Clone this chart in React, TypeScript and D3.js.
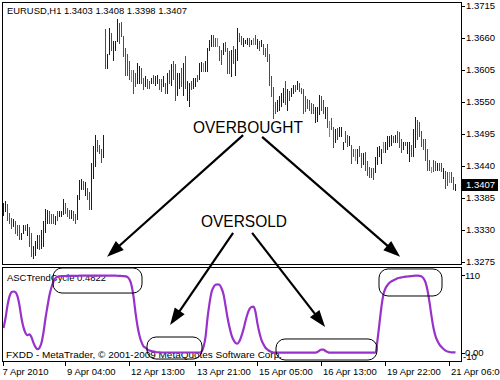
import React from 'react';
import * as d3 from 'd3';

// ---- Data (EURUSD H1 bars) ----
const highs = [
  1.3376,1.3379,1.3373,1.3358,1.3350,1.3348,1.3344,1.3338,1.3337,1.3324,
  1.3337,1.3337,1.3340,1.3335,1.3324,1.3302,1.3310,1.3321,1.3321,1.3330,
  1.3344,1.3365,1.3364,1.3361,1.3356,1.3356,1.3353,1.3361,1.3361,1.3361,
  1.3383,1.3375,1.3367,1.3364,1.3364,1.3361,1.3356,1.3389,1.3415,1.3417,
  1.3413,1.3411,1.3402,1.3394,1.3445,1.3473,1.3492,1.3483,1.3476,1.3469,
  1.3493,
  1.3674,1.3631,1.3677,1.3668,1.3654,1.3654,1.3691,1.3685,1.3686,1.3662,
  1.3642,1.3631,1.3619,1.3605,1.3605,1.3599,1.3616,1.3611,1.3608,1.3591,
  1.3593,1.3588,1.3585,1.3591,1.3596,1.3593,1.3596,1.3588,1.3588,1.3593,
  1.3582,1.3599,1.3605,1.3614,1.3619,1.3614,1.3599,1.3599,1.3608,1.3616,
  1.3628,1.3585,1.3582,1.3585,1.3591,1.3591,1.3596,1.3616,1.3618,1.3616,
  1.3619,1.3642,1.3656,1.3665,1.3665,1.3659,1.3659,1.3645,1.3639,1.3651,
  1.3652,1.3642,1.3636,1.3639,1.3645,1.3641,1.3677,1.3668,1.3662,1.3659,
  1.3656,1.3659,1.3659,1.3655,1.3659,1.3665,1.3658,1.3654,1.3655,1.3648,
  1.3642,1.3648,1.3631,1.3593,1.3575,1.3550,1.3553,1.3559,1.3565,1.3574,
  1.3585,1.3571,1.3568,1.3574,1.3579,1.3579,1.3585,1.3581,1.3574,1.3571,
  1.3559,1.3555,1.3553,1.3548,1.3545,1.3541,1.3540,1.3562,1.3559,1.3553,
  1.3541,1.3541,1.3516,1.3522,1.3507,1.3502,1.3505,1.3507,1.3507,1.3481,
  1.3499,1.3493,1.3490,1.3476,1.3468,1.3468,1.3468,1.3473,1.3462,1.3462,
  1.3464,1.3447,1.3438,1.3436,1.3436,1.3455,1.3471,1.3473,1.3468,1.3480,
  1.3481,1.3490,1.3490,1.3493,1.3490,1.3493,1.3499,1.3497,1.3485,1.3480,
  1.3481,1.3480,1.3481,1.3476,1.3502,1.3524,1.3519,1.3514,1.3499,1.3485,
  1.3485,1.3468,1.3450,1.3438,1.3450,1.3447,1.3445,1.3445,1.3445,1.3436,
  1.3430,1.3428,1.3428,1.3428,1.3421,1.3408,
];
const lows = [
  1.3355,1.3361,1.3347,1.3341,1.3333,1.3336,1.3324,1.3321,1.3313,1.3314,
  1.3324,1.3330,1.3321,1.3301,1.3284,1.3281,1.3287,1.3298,1.3296,1.3298,
  1.3301,1.3325,1.3341,1.3341,1.3341,1.3341,1.3340,1.3347,1.3353,1.3354,
  1.3356,1.3358,1.3353,1.3350,1.3350,1.3347,1.3341,1.3348,1.3382,1.3399,
  1.3399,1.3390,1.3383,1.3365,1.3365,1.3419,1.3440,1.3465,1.3461,1.3446,
  1.3455,
  1.3608,1.3608,1.3631,1.3639,1.3622,1.3639,1.3654,1.3651,1.3662,1.3628,
  1.3596,1.3596,1.3588,1.3585,1.3565,1.3576,1.3582,1.3582,1.3582,1.3571,
  1.3576,1.3574,1.3574,1.3582,1.3582,1.3579,1.3582,1.3571,1.3568,1.3576,
  1.3565,1.3565,1.3582,1.3579,1.3588,1.3553,1.3562,1.3574,1.3576,1.3562,
  1.3574,1.3553,1.3543,1.3571,1.3574,1.3577,1.3585,1.3588,1.3602,1.3602,
  1.3602,1.3602,1.3639,1.3645,1.3645,1.3645,1.3645,1.3622,1.3614,1.3631,
  1.3636,1.3599,1.3599,1.3593,1.3616,1.3596,1.3622,1.3654,1.3648,1.3645,
  1.3651,1.3648,1.3645,1.3648,1.3648,1.3648,1.3642,1.3639,1.3645,1.3631,
  1.3628,1.3619,1.3579,1.3559,1.3522,1.3530,1.3533,1.3536,1.3542,1.3550,
  1.3545,1.3536,1.3553,1.3559,1.3565,1.3568,1.3571,1.3568,1.3565,1.3530,
  1.3533,1.3539,1.3536,1.3530,1.3530,1.3514,1.3516,1.3528,1.3536,1.3531,
  1.3522,1.3507,1.3490,1.3502,1.3471,1.3480,1.3485,1.3490,1.3490,1.3468,
  1.3480,1.3473,1.3476,1.3445,1.3456,1.3450,1.3445,1.3456,1.3438,1.3442,
  1.3433,1.3424,1.3421,1.3421,1.3416,1.3428,1.3442,1.3456,1.3445,1.3464,
  1.3464,1.3468,1.3473,1.3476,1.3481,1.3480,1.3481,1.3471,1.3464,1.3468,
  1.3476,1.3462,1.3447,1.3456,1.3456,1.3471,1.3485,1.3490,1.3473,1.3468,
  1.3450,1.3433,1.3433,1.3428,1.3430,1.3433,1.3433,1.3433,1.3430,1.3419,
  1.3402,1.3407,1.3412,1.3412,1.3399,1.3398,
];
// b = up bar, r = down bar, g = unchanged
const barDirs = (
  "bbrrrbrrrb" + "brbrrbbbrb" + "bbbrrrbrbb" + "brrrbrrbbb" + "rbrrbbbrrr" + "b" +
  "rbbrbbbrrr" + "rrrgrrbbrr" + "brrbrbbrrb" + "rbrbrrbbrb" + "rbbrbbrbbg" +
  "bbbbrrgrrb" + "rrrbrbbrrb" + "bbr" + "bgrbrbr" +
  "rrrrrrbbbb" + "rbrbbrbrrr" + "rrrrrbbbrr" + "brgrrbrbbb" + "rrbrrgbrrb" +
  "rrrrrbbbbg" + "bbbbrbrrrb" + "rbbrbbrrrr" + "rrrgrrbrrb" + "rrgrrb"
).split('');

const trendCycle = [
  35,49,67,80,86,87,86,80,67,49,
  36,28,25,26,22,14,8,5,7,14,
  29,49,66,82,93,101,106,108,108.5,
  109,109,109,109.2,109.2,109.3,109.3,109.3,109.3,109.4,
  109.4,109.4,109.4,109.5,109.5,109.5,109.5,109.5,109.5,109.5,
  109.5,109.5,109.5,109.5,109.5,109.5,109.4,109.4,109.3,109.2,
  109,108.8,108.5,107.5,
  104,96,80,57,38,24,15,9,
  7,4.5,3,2.4,1.7,1,
  0.6,0.4,0.3,0.3,0.3,0.3,0.3,0.3,0.3,0.3,0.3,0.3,0.3,0.3,0.3,0.3,0.3,0.3,0.3,0.3,0.3,0.3,1.5,
  8,22,49,70,86,93,96.5,97,96.5,91.6,
  83,67,50,36,25,18,14,13,16.5,24,
  33.5,45,55,62,65,65.5,58,41,28,18,
  12,7,4.5,2.4,1,
  0.2,0.2,0.2,0.2,0.2,0.2,0.2,0.2,0.2,0.2,0.2,0.2,0.2,0.2,0.2,0.2,0.2,0.2,0.2,0.2,0.2,0.2,
  1,3,4.5,4.5,2.4,1,
  0,0,0,0,0,0,0,0,0,0,0,0,0,0,0,0,0,0,0,0,0,0,0,0,
  18,42,66,83,91.6,96,99.4,101.5,103,104.3,105.7,106.5,107,107.6,
  108,108.3,108.6,108.9,109.2,109.4,109.5,109.3,
  108.5,105.7,100,88.8,71.8,52,35,23.6,16.6,11.6,8,5.2,3,1.7,1,0.6,0.5,0.48,
];

const priceTicks = [1.3715, 1.3660, 1.3605, 1.3550, 1.3495, 1.3440, 1.3385, 1.3330, 1.3275];
const lastPrice = 1.3407;
const headerText = 'EURUSD,H1  1.3403 1.3408 1.3398 1.3407';
const indicatorTitle = 'ASCTrendCycle 0.4822';
const copyrightText = 'FXDD - MetaTrader, \u00A9 2001-2009 MetaQuotes Software Corp.';
const timeTickBars = [0, 31, 63, 96, 127, 159, 191, 223];
const timeTickLabels = ['7 Apr 2010', '9 Apr 04:00', '12 Apr 13:00', '13 Apr 21:00', '15 Apr 05:00', '16 Apr 13:00', '19 Apr 22:00', '21 Apr 06:00'];

// annotations in data coordinates (bar index / price / indicator value)
const noteTexts = [
  { text: 'OVERBOUGHT', bar: 94.75, price: 1.3497, len: 110 },
  { text: 'OVERSOLD', bar: 98.75, price: 1.3335, len: 86 },
];
const arrows = [
  { fromBar: 119.8, fromPrice: 1.3493, toBar: 51.8, toPrice: 1.3284, toInd: null },
  { fromBar: 129.3, fromPrice: 1.3490, toBar: 198.3, toPrice: 1.3284, toInd: null },
  { fromBar: 114.8, fromPrice: 1.3325, toBar: 83.3, toPrice: null, toInd: 39.4 },
  { fromBar: 124.3, fromPrice: 1.3325, toBar: 160.8, toPrice: null, toInd: 36.5 },
];
const zones = [
  { b0: 24.75, b1: 69.25, v0: 120.4, v1: 84.8 },
  { b0: 71.75, b1: 99.25, v0: 22.3, v1: -9.0 },
  { b0: 136.25, b1: 186.75, v0: 19.5, v1: -10.4 },
  { b0: 187.75, b1: 219.25, v0: 119.0, v1: 80.6 },
];

const FONT = '"Liberation Sans", Arial, sans-serif';
const dirColor: Record<string, string> = { b: '#0000ff', r: '#ff0000', g: '#00e000' };

export default function App() {
  const W = 500, H = 380;
  const x = d3.scaleLinear().domain([0, highs.length - 1]).range([3.5, 455.5]);
  const y = d3.scaleLinear().domain([1.3275, 1.3715]).range([262, 6]);
  const yi = d3.scaleLinear().domain([0, 110]).range([352.7, 275.3]);

  const indLine = d3.line<number>().x((_, i) => x(i)).y(d => yi(d)).curve(d3.curveMonotoneX);

  const arrowEls = arrows.map((a, k) => {
    const x0 = x(a.fromBar), y0 = y(a.fromPrice);
    const x1 = x(a.toBar), y1 = a.toInd !== null ? yi(a.toInd) : y(a.toPrice as number);
    const dx = x1 - x0, dy = y1 - y0, L = Math.hypot(dx, dy);
    const ux = dx / L, uy = dy / L;
    const hl = 17, hw = 6;
    const bx = x1 - ux * hl, by = y1 - uy * hl;
    const pts = [[x1, y1], [bx - uy * hw, by + ux * hw], [bx + uy * hw, by - ux * hw]];
    return (
      <g key={k}>
        <line x1={x0} y1={y0} x2={bx + ux * 2} y2={by + uy * 2} stroke="#000" strokeWidth={2.2} />
        <polygon points={pts.map(p => p.join(',')).join(' ')} fill="#000" />
      </g>
    );
  });

  return (
    <svg width={W} height={H} style={{ position: 'absolute', left: 0, top: 0, background: '#fff' }}
      fontFamily={FONT}>
      <rect x={0} y={0} width={W} height={H} fill="#fff" />
      <defs>
        <clipPath id="pclip"><rect x={3} y={3} width={458} height={261} /></clipPath>
        <clipPath id="iclip"><rect x={3} y={268} width={458} height={93} /></clipPath>
      </defs>

      {/* header */}
      <text x={7} y={14} fontSize={9.5} fill="#000" textLength={180} lengthAdjust="spacingAndGlyphs">{headerText}</text>

      {/* price bars */}
      <g clipPath="url(#pclip)" shapeRendering="crispEdges">
        {highs.map((h, i) => (
          <line key={i} x1={x(i)} x2={x(i)} y1={y(h) - 0.5} y2={y(lows[i]) + 0.5}
            stroke={dirColor[barDirs[i]]} strokeWidth={1} />
        ))}
      </g>

      {/* indicator panel texts */}
      <text x={7} y={281} fontSize={9.5} fill="#000" textLength={99} lengthAdjust="spacingAndGlyphs">{indicatorTitle}</text>
      <text x={6} y={358} fontSize={9.5} fill="#000" textLength={276} lengthAdjust="spacingAndGlyphs">{copyrightText}</text>

      {/* indicator line */}
      <g clipPath="url(#iclip)">
        <path d={indLine(trendCycle) || ''} fill="none" stroke="#9932cc" strokeWidth={2.2} strokeLinejoin="round" />
      </g>

      {/* zones */}
      {zones.map((z, k) => (
        <rect key={k} x={x(z.b0)} y={yi(z.v0)} width={x(z.b1) - x(z.b0)} height={yi(z.v1) - yi(z.v0)}
          rx={9} ry={9} fill="none" stroke="#000" strokeWidth={1} />
      ))}

      {/* frames */}
      <g shapeRendering="crispEdges" fill="none" stroke="#000" strokeWidth={1}>
        <rect x={2.5} y={2.5} width={459} height={262} />
        <rect x={2.5} y={267.5} width={459} height={94} />
      </g>

      {/* price axis */}
      <g shapeRendering="crispEdges">
        {priceTicks.map((p, k) => (
          <g key={k}>
            <line x1={462} x2={465} y1={Math.round(y(p)) + 0.5} y2={Math.round(y(p)) + 0.5} stroke="#000" />
            <text x={466} y={y(p)} dy="0.36em" fontSize={9.5} fill="#000">{p.toFixed(4)}</text>
          </g>
        ))}
        <rect x={462} y={y(lastPrice) - 6.5} width={36} height={12} fill="#000" />
        <text x={466} y={y(lastPrice) - 0.5} dy="0.36em" fontSize={9.5} fill="#fff">{lastPrice.toFixed(4)}</text>
      </g>

      {/* indicator axis */}
      <g shapeRendering="crispEdges">
        <line x1={462} x2={465} y1={Math.round(yi(110)) + 0.5} y2={Math.round(yi(110)) + 0.5} stroke="#000" />
        <text x={465} y={yi(110)} dy="0.36em" fontSize={9.5} fill="#000">110</text>
        <line x1={462} x2={465} y1={Math.round(yi(0)) + 0.5} y2={Math.round(yi(0)) + 0.5} stroke="#000" />
        <text x={465} y={yi(0)} dy="0.36em" fontSize={9.5} fill="#000">0.00</text>
        <text x={463} y={yi(0) + 4} dy="0.36em" fontSize={9.5} fill="#000">-10</text>
      </g>

      {/* time axis */}
      <g shapeRendering="crispEdges">
        {timeTickBars.map((b, k) => (
          <g key={k}>
            <line x1={x(b)} x2={x(b)} y1={362} y2={366} stroke="#000" />
            <text x={x(b) + (k === 0 ? -1 : 1.5)} y={375} fontSize={9.5} fill="#000">{timeTickLabels[k]}</text>
          </g>
        ))}
      </g>

      {/* annotations */}
      {noteTexts.map((t, k) => (
        <text key={k} x={x(t.bar)} y={y(t.price)} fontSize={16.5} fill="#000"
          textLength={t.len} lengthAdjust="spacingAndGlyphs">{t.text}</text>
      ))}
      {arrowEls}
    </svg>
  );
}
